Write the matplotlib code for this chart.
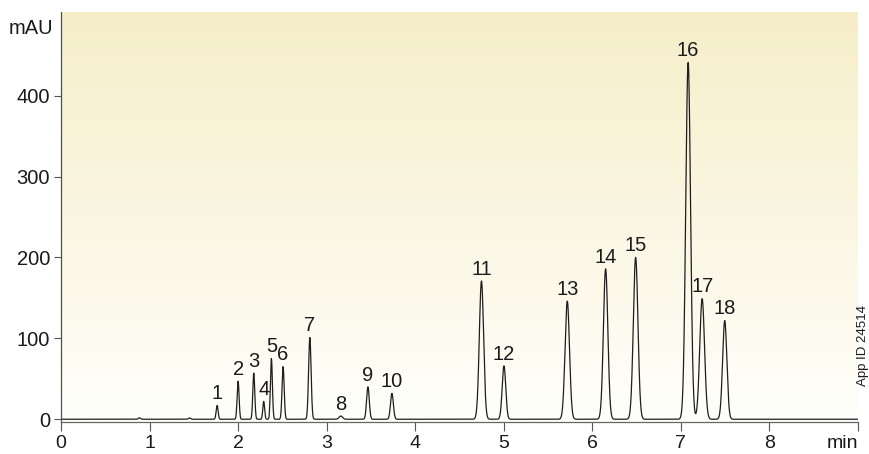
import numpy as np
import matplotlib.pyplot as plt
from matplotlib.colors import LinearSegmentedColormap

plt.rcParams['font.family'] = ['Liberation Sans', 'DejaVu Sans']

# peak table (retention time in min, height in mAU, sigma in min)
peak_labels = ['1', '2', '3', '4', '5', '6', '7', '8', '9', '10',
               '11', '12', '13', '14', '15', '16', '17', '18']
peak_rt = [1.763, 2.00, 2.177, 2.289, 2.376, 2.508, 2.81, 3.16, 3.466, 3.737,
           4.748, 5.002, 5.717, 6.150, 6.489, 7.082, 7.240, 7.495]
peak_height = [17, 47, 57, 22, 75, 65, 101, 4, 40, 32,
               171, 66, 146, 186, 200, 441, 149, 122]
peak_sigma = [0.011, 0.011, 0.011, 0.010, 0.011, 0.012, 0.014, 0.02, 0.015, 0.016,
              0.024, 0.020, 0.025, 0.025, 0.026, 0.027, 0.027, 0.024]

# small baseline bumps without labels
bump_rt = [0.885, 1.45]
bump_height = [1.8, 1.6]
bump_sigma = [0.012, 0.012]

x_ticks = [0, 1, 2, 3, 4, 5, 6, 7, 8, 9]
x_ticklabels = ['0', '1', '2', '3', '4', '5', '6', '7', '8', 'min']
y_ticks = [0, 100, 200, 300, 400]

t = np.linspace(0, 9, 9001)
signal = np.zeros_like(t)
for rt, h, s in zip(peak_rt + bump_rt, peak_height + bump_height, peak_sigma + bump_sigma):
    signal += h * np.exp(-0.5 * ((t - rt) / s) ** 2)

fig = plt.figure(figsize=(8.7, 4.54), dpi=100)
ax = fig.add_axes([61 / 870, 1 - 422 / 454, (858 - 61) / 870, (422 - 12) / 454])

ymin, ymax = -3.4, 503.5
ax.set_xlim(0, 9)
ax.set_ylim(ymin, ymax)

# yellow gradient background
cmap = LinearSegmentedColormap.from_list('bg', ['#fffffb', '#fbf6e2', '#f6eec9'])
grad = np.linspace(0, 1, 256).reshape(-1, 1)
ax.imshow(grad, cmap=cmap, aspect='auto', origin='lower',
          extent=[0, 9, ymin, ymax], zorder=0)

ax.plot(t, signal, color='#1e1e1e', lw=0.9, zorder=2)

fs = 14.5
for lab, rt, h in zip(peak_labels, peak_rt, peak_height):
    ax.annotate(lab, (rt, h), xytext=(0, 4.5), textcoords='offset points',
                ha='center', va='baseline', fontsize=fs, color='#1a1a1a')

for side in ['top', 'right']:
    ax.spines[side].set_visible(False)
ax.spines['left'].set_color('#555045')
ax.spines['bottom'].set_color('#666666')
ax.spines['left'].set_linewidth(0.9)
ax.spines['bottom'].set_linewidth(0.9)

ax.set_xticks(x_ticks)
ax.set_xticklabels(x_ticklabels)
ax.get_xticklabels()[-1].set_ha('right')
ax.set_yticks(y_ticks)
ax.tick_params(axis='x', length=6.5, width=0.8, color='#555555', pad=3,
               labelsize=14, labelcolor='#1a1a1a')
ax.tick_params(axis='y', length=5, width=0.8, color='#555555', pad=3,
               labelsize=fs, labelcolor='#1a1a1a')

fig.text(53 / 870, 1 - 28 / 454, 'mAU', ha='right', va='center',
         fontsize=fs, color='#1a1a1a')
fig.text(863 / 870, 1 - 346 / 454, 'App ID 24514', rotation=90,
         ha='center', va='center', fontsize=9.5, color='#1a1a1a')

fig.savefig('out.png', dpi=100)
